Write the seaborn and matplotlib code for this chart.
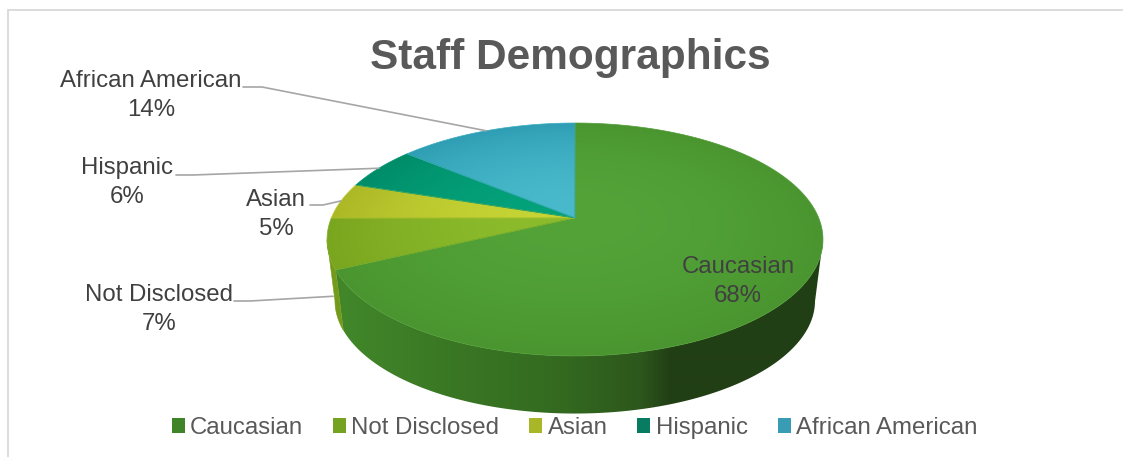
import numpy as np
import matplotlib
matplotlib.use("Agg")
import matplotlib.pyplot as plt
from matplotlib.patches import Patch, Polygon
from matplotlib.colors import to_rgb
import seaborn as sns

# Chart content
title = "Staff Demographics"
categories = ["Caucasian", "Not Disclosed", "Asian", "Hispanic", "African American"]
values = [68, 7, 5, 6, 14]

# Styling per slice: rim colour, colour near the hub, side wall, legend swatch
rim_colors = ["#4a952f", "#7aa51f", "#adb826", "#008c69", "#2f9eb4"]
hub_colors = ["#53a339", "#8cbc2c", "#c6d535", "#04a37b", "#48bacb"]
wall_colors = ["#3f8228", "#739a1a", "#8f9a1e", "#00694f", "#237a8a"]
legend_colors = ["#3f8429", "#76a222", "#a9b628", "#077c60", "#389db4"]
text_dark = "#404040"
text_mid = "#595959"
leader_color = "#a6a6a6"
frame_color = "#d9d9d9"

# Shading of the big slice's wall, from the left of the pie to the right
wall_x = [335, 450, 560, 640, 670, 820]
wall_ramp = ["#42882a", "#3a7724", "#336a20", "#2d571c", "#223f15", "#213f15"]

# Tilted-disc projection parameters
cx, cy = 575.0, 218.0
radius, squash, tilt = 243.7, 112.5, 0.1845
base_scale, base_drop = 0.968, 62.0

sns.set_theme(style="white")
plt.rcParams["font.family"] = ["Liberation Sans", "DejaVu Sans"]


def project(theta, r=1.0, scale=1.0, drop=0.0):
    """Map a disc point (angle in degrees, unit radius r) to the canvas."""
    t = np.radians(theta)
    px, py = r * np.cos(t), r * np.sin(t)
    w = 1 + tilt * py
    return cx + scale * radius * px / w, cy + drop - scale * squash * py / w


def disc_radius(x, y):
    """Inverse of project for the top face: unit-disc radius of canvas points."""
    u, v = x - cx, cy - y
    py = v / (squash - tilt * v)
    px = u * (1 + tilt * py) / radius
    return np.hypot(px, py)


fig = plt.figure(figsize=(11.23, 4.57), dpi=100, facecolor="white")
ax = fig.add_axes([0, 0, 1, 1])

# Slice boundaries, clockwise from twelve o'clock
sweep = np.array(values) / sum(values) * 360
ends = 90 - np.cumsum(sweep)
starts = ends + sweep
mids = (starts + ends) / 2

# Side wall: one outline per visible slice, the big slice shaded left to right.
# Arcs stop where the disc is widest so the silhouette runs along its tangent.
wall_strip = np.array([to_rgb(c) for c in wall_ramp])
strip_x = np.arange(320, 830)
strip = np.stack([np.interp(strip_x, wall_x, wall_strip[:, k]) for k in range(3)], axis=-1)[None, ...]
for i, (a0, a1) in enumerate(zip(starts, ends)):
    arc = np.linspace(a0, a1, max(int(sweep[i] * 4), 12))
    arc = arc[np.sin(np.radians(arc)) <= -tilt]
    if arc.size < 2:
        continue
    tx, ty = project(arc)
    bx, by = project(arc, scale=base_scale, drop=base_drop)
    verts = np.column_stack([np.r_[tx, bx[::-1]], np.r_[ty, by[::-1]]])
    if i == 0:
        outline = Polygon(verts, closed=True, transform=ax.transData, facecolor="none",
                          edgecolor="none", zorder=2)
        ax.add_patch(outline)
        wall = ax.imshow(strip, extent=(320, 830, 420, 120), aspect="auto",
                         interpolation="bilinear", zorder=2)
        wall.set_clip_path(outline)
    else:
        ax.add_patch(Polygon(verts, closed=True, facecolor=wall_colors[i],
                             edgecolor=wall_colors[i], linewidth=0.4, zorder=2.1))

# Top face: each slice is a radial gradient clipped to its outline
gx, gy = np.meshgrid(np.arange(320, 830), np.arange(118, 362))
rr = np.clip(disc_radius(gx + 0.5, gy + 0.5), 0, 1)[..., None]
for i, (a0, a1) in enumerate(zip(starts, ends)):
    rim, hub = np.array(to_rgb(rim_colors[i])), np.array(to_rgb(hub_colors[i]))
    shade = hub + (rim - hub) * rr ** 2
    im = ax.imshow(shade, extent=(320, 830, 362, 118), origin="upper",
                   aspect="auto", interpolation="bilinear", zorder=3)
    arc = np.linspace(a0, a1, max(int(sweep[i] * 2), 6))
    ex, ey = project(arc)
    outline = Polygon(np.column_stack([np.r_[cx, ex], np.r_[cy, ey]]), closed=True,
                      transform=ax.transData, facecolor="none",
                      edgecolor=tuple((rim + hub) / 2), linewidth=0.5, zorder=3.1)
    ax.add_patch(outline)
    im.set_clip_path(outline)

ax.set_xlim(0, 1123)
ax.set_ylim(457, 0)
ax.axis("off")

# Chart frame
ax.plot([8, 8, 1123], [457, 9.5, 9.5], color=frame_color, lw=1.3, zorder=1,
        solid_joinstyle="miter")

# Title
ax.text(570, 58, title, ha="center", va="center", fontsize=30.5, fontweight="bold",
        color=text_mid, zorder=5)

# Data labels and leader lines
label_font = 17.3
label_spots = {0: (738, 281.5), 1: (159, 309.5), 2: (276, 214.5), 3: (127, 182.5), 4: (151, 95.5)}
leader_knees = {
    1: [(234, 301), (250, 301)],
    2: [(310, 205), (323, 205)],
    3: [(176, 175), (193, 175)],
    4: [(243, 87), (262, 87)],
}
for i, name in enumerate(categories):
    lx, ly = label_spots[i]
    ax.text(lx, ly, f"{name}\n{values[i]}%", ha="center", va="center", fontsize=label_font,
            color=text_dark, linespacing=1.42, zorder=6)
    if i in leader_knees:
        ex, ey = project(mids[i])
        if i == 1:  # this slice's leader lands on the wall
            ey += 0.85 * base_drop
            ex += 6
        pts = leader_knees[i] + [(ex, ey)]
        ax.plot(*zip(*pts), color=leader_color, lw=1.2, zorder=4)

# Legend
handles = [Patch(facecolor=c, edgecolor="none", label=n) for c, n in zip(legend_colors, categories)]
ax.legend(handles=handles, ncol=5, loc="center", bbox_to_anchor=(574.5 / 1123, 1 - 428 / 457),
          bbox_transform=fig.transFigure, frameon=False, fontsize=label_font,
          labelcolor=text_mid, handlelength=0.544, handleheight=0.544,
          handletextpad=0.21, columnspacing=1.25, borderpad=0, borderaxespad=0)

fig.savefig("out.png", dpi=100, facecolor="white")
